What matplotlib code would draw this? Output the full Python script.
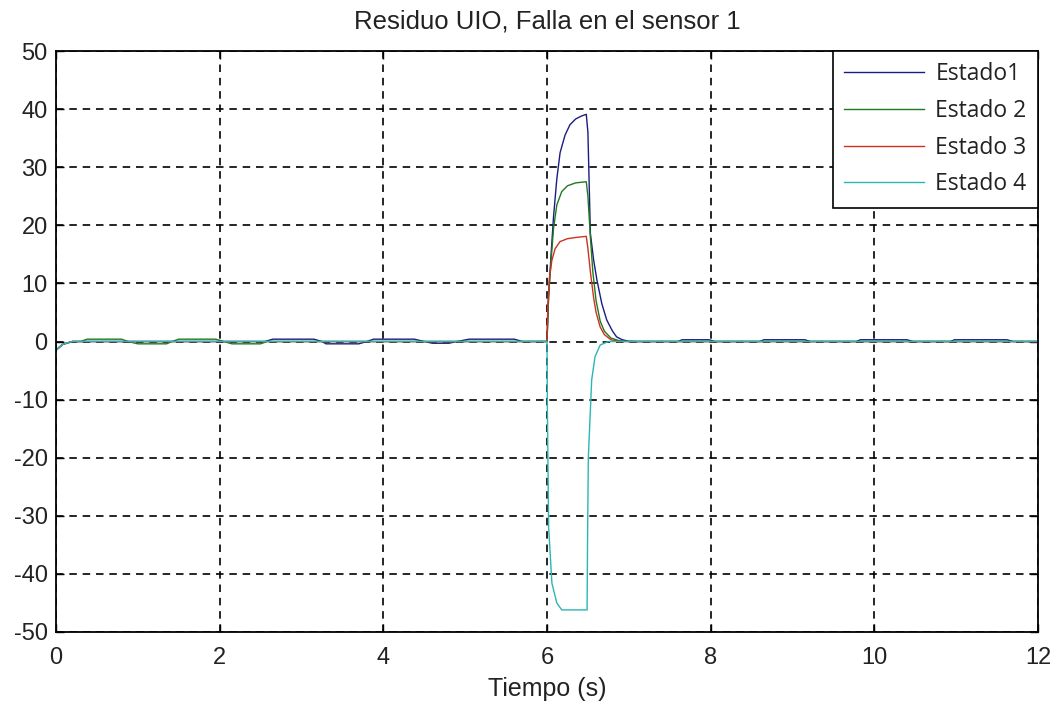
import matplotlib
matplotlib.use("Agg")
import matplotlib.pyplot as plt

# ---- data ----
t1 = [0, 0.08, 0.2, 2.55, 2.65, 3.15, 3.25, 3.3, 3.7, 3.8, 3.88, 4.38, 4.5, 4.6, 4.8, 4.9,
      5.05, 5.6, 5.7, 6.0, 6.02, 6.05, 6.08, 6.12, 6.16, 6.22, 6.28, 6.35, 6.42, 6.48,
      6.5, 6.53, 6.57, 6.61, 6.67, 6.73, 6.8, 6.85, 6.92, 7.0, 7.1, 7.6, 7.65, 7.98, 8.05,
      8.6, 8.65, 9.15, 9.22, 9.78, 9.83, 10.4, 10.47, 10.93, 10.98, 11.62, 11.7, 12.0]
estado1 = [-1.5, -0.5, 0, 0, 0.4, 0.4, 0, -0.4, -0.4, 0, 0.4, 0.4, 0, -0.3, -0.3, 0,
           0.4, 0.4, 0, 0, 8, 15, 21.5, 28, 32.5, 35.5, 37.3, 38.3, 38.8, 39.1,
           36, 18.6, 14, 10.6, 6.5, 3.7, 1.8, 0.8, 0.3, 0.05, 0, 0, 0.3, 0.3, 0,
           0, 0.3, 0.3, 0, 0, 0.3, 0.3, 0, 0, 0.3, 0.3, 0, 0]

t2 = [0, 0.08, 0.2, 0.3, 0.38, 0.8, 0.88, 1.0, 1.35, 1.42, 1.5, 1.95, 2.05, 2.15, 2.5, 2.58,
      6.0, 6.02, 6.05, 6.08, 6.12, 6.18, 6.25, 6.35, 6.48,
      6.5, 6.53, 6.56, 6.6, 6.65, 6.7, 6.78, 6.88, 7.0, 12.0]
estado2 = [-1.5, -0.5, 0, 0, 0.4, 0.4, 0, -0.4, -0.4, 0, 0.4, 0.4, 0, -0.4, -0.4, 0,
           0, 8, 14, 19.5, 23.5, 25.8, 26.8, 27.3, 27.5,
           25, 18, 12, 7, 3.5, 1.8, 0.6, 0.15, 0, 0]

t3 = [0, 0.08, 0.2, 6.0, 6.01, 6.03, 6.06, 6.1, 6.16, 6.25, 6.35, 6.48,
      6.5, 6.53, 6.57, 6.6, 6.65, 6.7, 6.78, 6.9, 12.0]
estado3 = [-1.5, -0.5, 0, 0, 6, 11, 14, 16, 17.2, 17.7, 17.9, 18.1,
           16, 12, 7.5, 5, 2.5, 1.2, 0.3, 0, 0]

t4 = [0, 0.08, 0.2, 6.0, 6.005, 6.02, 6.06, 6.12, 6.18, 6.49, 6.495, 6.505,
      6.546, 6.587, 6.65, 6.75, 12.0]
estado4 = [-1.5, -0.5, 0, 0, -12, -32, -41.6, -45, -46.2, -46.2, -35, -20,
           -6.6, -2.6, -0.6, 0, 0]

labels = ["Estado1", "Estado 2", "Estado 3", "Estado 4"]
colors = ["#1c1c80", "#1e7a1e", "#d03020", "#2cb5b5"]
xticks = [0, 2, 4, 6, 8, 10, 12]
yticks = [-50, -40, -30, -20, -10, 0, 10, 20, 30, 40, 50]

plt.rcParams['font.family'] = ['Liberation Sans', 'DejaVu Sans']
plt.rcParams['axes.unicode_minus'] = False

fig = plt.figure(figsize=(10.55, 7.09), dpi=100)
fig.patch.set_facecolor("white")
ax = fig.add_axes([56/1055, 77/709, 982/1055, 581/709])

for t, y, c, lab in zip([t1, t2, t3, t4], [estado1, estado2, estado3, estado4], colors, labels):
    ax.plot(t, y, color=c, lw=1.0, label=lab)

ax.set_xlim(0, 12)
ax.set_ylim(-50, 50)
ax.set_xticks(xticks)
ax.set_yticks(yticks)
ax.grid(True, color="black", linestyle=(0, (4.5, 3.5)), linewidth=1.2)
ax.set_axisbelow(True)
ax.tick_params(direction="in", length=6, width=1, top=True, right=True,
               labelsize=17, labelcolor="#222222")
ax.tick_params(axis="x", pad=10.5)
ax.tick_params(axis="y", pad=6)
for s in ax.spines.values():
    s.set_linewidth(1.3)
    s.set_color("black")

ax.set_title("Residuo UIO, Falla en el sensor 1", fontsize=18.5, pad=16, color="#222222")
ax.set_xlabel("Tiempo (s)", fontsize=18, labelpad=6, color="#222222")

leg = ax.legend(loc="upper right", bbox_to_anchor=(1, 1), borderaxespad=0,
                handlelength=3.5, handletextpad=0.48,
                labelspacing=0.55, borderpad=0.5, fancybox=False,
                framealpha=1, edgecolor="black",
                prop={'family': ['Open Sans', 'DejaVu Sans'], 'size': 16.5})
leg.get_frame().set_linewidth(1.2)
for txt in leg.get_texts():
    txt.set_color("#222222")

fig.savefig("out.png", dpi=100, facecolor="white")
